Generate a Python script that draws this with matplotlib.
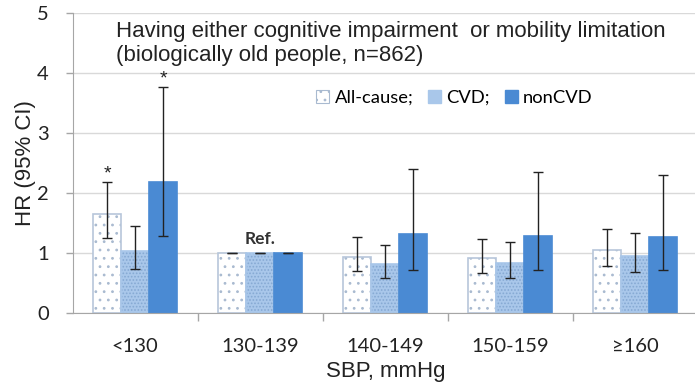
import numpy as np
import matplotlib
matplotlib.use('Agg')
import matplotlib.pyplot as plt
from matplotlib.patches import Patch

categories = ['<130', '130-139', '140-149', '150-159', '≥160']

all_cause = [1.65, 1.0, 0.94, 0.91, 1.05]
all_lo = [1.25, 1.0, 0.70, 0.67, 0.78]
all_hi = [2.18, 1.0, 1.26, 1.23, 1.40]

cvd = [1.03, 1.0, 0.82, 0.83, 0.95]
cvd_lo = [0.73, 1.0, 0.58, 0.58, 0.68]
cvd_hi = [1.45, 1.0, 1.14, 1.18, 1.33]

noncvd = [2.18, 1.0, 1.31, 1.28, 1.27]
noncvd_lo = [1.28, 1.0, 0.72, 0.72, 0.72]
noncvd_hi = [3.76, 1.0, 2.40, 2.35, 2.30]

# which bars get a significance star (series index, category index)
stars = [(0, 0), (2, 0)]

calibri_like = ['Lato', 'DejaVu Sans']
arial_like = ['Liberation Sans', 'DejaVu Sans']

plt.rcParams['hatch.linewidth'] = 0.8

fig = plt.figure(figsize=(6.95, 3.86), dpi=100)
ax = fig.add_axes([72.5 / 695, 73 / 386, 625.5 / 695, 300 / 386])

x = np.arange(len(categories))
w = 0.224
series = [
    (all_cause, all_lo, all_hi, 'white', '#a9bad0', '..'),
    (cvd, cvd_lo, cvd_hi, '#a9c7ea', '#86a9d3', '.....'),
    (noncvd, noncvd_lo, noncvd_hi, '#4a8ad3', None, None),
]

for i, (vals, lo, hi, face, hatch_col, hatch) in enumerate(series):
    pos = x + (i - 1) * w
    ax.bar(pos, vals, w, color=face, linewidth=0, zorder=2)
    if hatch:
        ax.bar(pos, vals, w, facecolor='none', edgecolor=hatch_col,
               hatch=hatch, linewidth=0, zorder=2)
    edge = '#b7c6da' if i == 0 else face
    ax.bar(pos, vals, w, facecolor='none', edgecolor=edge, linewidth=1.2, zorder=2)
    v = np.array(vals)
    yerr = [v - np.array(lo), np.array(hi) - v]
    ax.errorbar(pos, vals, yerr=yerr, fmt='none', ecolor='#222222',
                elinewidth=1.0, capsize=3.5, capthick=1.0, zorder=3)

for s, c in stars:
    hi = series[s][2][c]
    ax.annotate('*', (x[c] + (s - 1) * w, hi), xytext=(0, 0),
                textcoords='offset points', ha='center', va='bottom',
                fontsize=14, family=arial_like, color='#222222')

ax.text(x[1], 1.1, 'Ref.', ha='center', va='bottom', fontsize=12.5,
        fontweight='bold', family=calibri_like, color='#333333')

ax.set_xlim(-0.5, len(categories) - 0.5)
ax.set_ylim(0, 5)
ax.set_yticks(range(6))
ax.yaxis.grid(True, color='#d9d9d9', linewidth=1.0, zorder=0)
ax.set_axisbelow(True)

ax.set_xticks(x)
ax.set_xticklabels(categories, family=calibri_like, fontsize=14.5, color='#222222')
ax.set_xticks(np.arange(0.5, len(categories) - 1, 1), minor=True)
ax.tick_params(axis='x', which='major', length=0, pad=18)
ax.tick_params(axis='x', which='minor', length=6, color='#a6a6a6', width=1)
ax.tick_params(axis='y', length=5, color='#a6a6a6', width=1, pad=12,
               labelsize=14.5, labelcolor='#222222')
for lab in ax.get_yticklabels():
    lab.set_family(calibri_like)

for side in ['top', 'right']:
    ax.spines[side].set_visible(False)
ax.spines['left'].set_color('#a6a6a6')
ax.spines['bottom'].set_color('#a6a6a6')

ax.set_ylabel('HR (95% CI)', family=arial_like, fontsize=16, color='#222222', labelpad=1)
ax.set_xlabel('SBP, mmHg', family=arial_like, fontsize=16, color='#222222', labelpad=4)

ax.text(0.07, 0.975, 'Having either cognitive impairment  or mobility limitation\n'
        '(biologically old people, n=862)', transform=ax.transAxes,
        ha='left', va='top', fontsize=16, family=arial_like, color='#222222',
        linespacing=1.2)

handles = [
    Patch(facecolor='white', edgecolor='#a9bad0', hatch='..', linewidth=0.8),
    Patch(facecolor='#a9c7ea', edgecolor='#a9c7ea'),
    Patch(facecolor='#4a8ad3', edgecolor='#4a8ad3'),
]
ax.legend(handles, ['All-cause;', 'CVD;', 'nonCVD'], loc='center left',
          bbox_to_anchor=(0.39, 0.717), ncol=3, frameon=False,
          prop={'family': calibri_like, 'size': 13.2}, handlelength=0.7,
          handleheight=0.7, handletextpad=0.3, columnspacing=0.8,
          borderaxespad=0, borderpad=0)

fig.savefig('out.png', dpi=100)
